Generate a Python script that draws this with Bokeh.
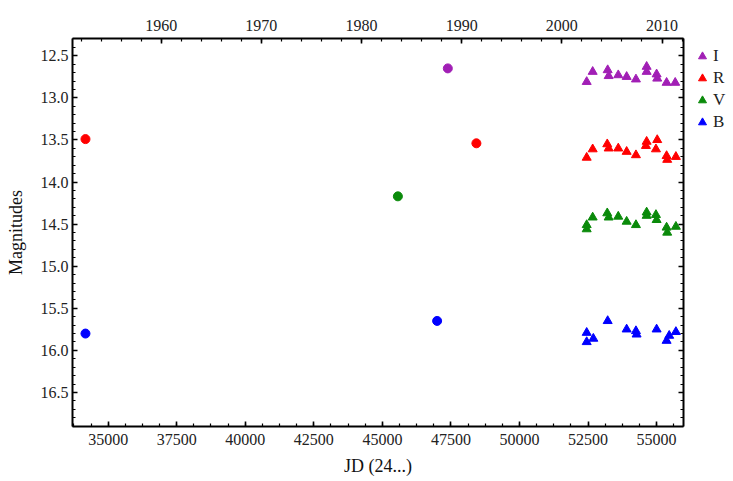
from bokeh.plotting import figure
from bokeh.layouts import row
from bokeh.models import (Range1d, LinearAxis, SingleIntervalTicker, Legend,
                          LegendItem, CustomJSTickFormatter, PrintfTickFormatter)
from bokeh.embed import file_html
from bokeh.resources import INLINE

# ---- data (JD - 2400000, magnitude) ----
# older archival measurements (circles)
B_old_jd = [34173, 46996]
B_old_mag = [15.80, 15.65]
V_old_jd = [45565]
V_old_mag = [14.17]
R_old_jd = [34173, 48428]
R_old_mag = [13.49, 13.54]
I_old_jd = [47386]
I_old_mag = [12.65]

# modern CCD measurements (triangles)
I_jd = [52450, 52668, 53215, 53251, 53601, 53907, 54246, 54636, 54636, 55000, 55022, 55364, 55678]
I_mag = [12.81, 12.69, 12.67, 12.74, 12.73, 12.75, 12.78, 12.63, 12.69, 12.72, 12.77, 12.82, 12.82]

R_jd = [52450, 52668, 53200, 53251, 53601, 53907, 54246, 54610, 54636, 54975, 55022, 55364, 55386, 55703]
R_mag = [13.71, 13.61, 13.55, 13.60, 13.60, 13.64, 13.68, 13.57, 13.52, 13.61, 13.50, 13.69, 13.735, 13.70]

V_jd = [52450, 52450, 52668, 53200, 53251, 53601, 53907, 54246, 54636, 54636, 54975, 55000, 55364, 55386, 55703]
V_mag = [14.56, 14.51, 14.42, 14.37, 14.42, 14.41, 14.47, 14.51, 14.36, 14.40, 14.39, 14.45, 14.54, 14.60, 14.53]

B_jd = [52450, 52450, 52692, 53215, 53907, 54246, 54270, 55000, 55364, 55459, 55703]
B_mag = [15.79, 15.90, 15.86, 15.65, 15.75, 15.77, 15.81, 15.75, 15.885, 15.825, 15.78]

band_names = ["I", "R", "V", "B"]
band_colors = ["#a11fb5", "#ff0000", "#0a8a0a", "#0000ff"]

X_START, X_END = 33700, 55980
Y_BOTTOM, Y_TOP = 16.904, 12.295
JD_J2000 = 51544.5


def jd_to_year(jd):
    return 2000.0 + (jd - JD_J2000) / 365.25


FONT = "Liberation Serif"

p = figure(width=685, height=481, output_backend="svg", toolbar_location=None,
           x_range=Range1d(X_START, X_END), y_range=Range1d(Y_BOTTOM, Y_TOP),
           min_border_left=72, min_border_right=2, min_border_top=38,
           min_border_bottom=55, background_fill_color="white",
           border_fill_color="white", outline_line_color=None, align="start")
p.xgrid.visible = False
p.ygrid.visible = False

p.extra_x_ranges = {"year": Range1d(jd_to_year(X_START), jd_to_year(X_END))}


def style(ax, label_size="16px"):
    ax.axis_line_width = 2
    ax.axis_line_color = "black"
    ax.major_tick_in = 5
    ax.major_tick_out = 0
    ax.minor_tick_in = 3
    ax.minor_tick_out = 0
    ax.major_tick_line_width = 1.6
    ax.minor_tick_line_width = 1.2
    ax.major_tick_line_color = "black"
    ax.minor_tick_line_color = "black"
    ax.major_label_text_font = FONT
    ax.major_label_text_font_size = label_size
    ax.major_label_text_color = "#222222"
    ax.axis_label_text_font = FONT
    ax.axis_label_text_font_size = "18px"
    ax.axis_label_text_font_style = "normal"
    ax.axis_label_text_color = "#111111"


xax = p.xaxis[0]
xax.ticker = SingleIntervalTicker(interval=2500, num_minor_ticks=4)
xax.axis_label = "JD (24...)"
style(xax)
xax.major_label_standoff = 7
xax.axis_label_standoff = 8

yax = p.yaxis[0]
yax.ticker = SingleIntervalTicker(interval=0.5, num_minor_ticks=5)
yax.formatter = PrintfTickFormatter(format="%.1f")
yax.axis_label = "Magnitudes"
style(yax)
yax.major_label_standoff = 4
yax.axis_label_standoff = 12

top = LinearAxis(x_range_name="year",
                 ticker=SingleIntervalTicker(interval=10, num_minor_ticks=5))
style(top)
top.major_label_standoff = 8
p.add_layout(top, "above")

right = LinearAxis(ticker=SingleIntervalTicker(interval=0.5, num_minor_ticks=5),
                   formatter=CustomJSTickFormatter(code="return ''"))
style(right)
right.major_label_standoff = 0
p.add_layout(right, "right")

old_data = {"I": (I_old_jd, I_old_mag), "R": (R_old_jd, R_old_mag),
            "V": (V_old_jd, V_old_mag), "B": (B_old_jd, B_old_mag)}
new_data = {"I": (I_jd, I_mag), "R": (R_jd, R_mag),
            "V": (V_jd, V_mag), "B": (B_jd, B_mag)}

for name, col in zip(band_names, band_colors):
    ox, oy = old_data[name]
    p.scatter(ox, oy, marker="circle", size=9, fill_color=col, line_color=col)
    nx, ny = new_data[name]
    p.scatter(nx, ny, marker="triangle", size=9, fill_color=col, line_color=col)

# ---- legend panel to the right of the frame ----
lp = figure(width=48, height=481, output_backend="svg", toolbar_location=None,
            title=None, x_range=Range1d(0, 1), y_range=Range1d(0, 1),
            x_axis_type=None, y_axis_type=None, min_border=0,
            min_border_top=0, min_border_bottom=0, min_border_left=0,
            min_border_right=0, outline_line_color=None,
            background_fill_color="white", border_fill_color="white",
            align="start")
lp.xgrid.visible = False
lp.ygrid.visible = False

items = []
for name, col in zip(band_names, band_colors):
    nx, ny = new_data[name]
    # same series, outside this panel's view; only its legend swatch is shown
    r = lp.scatter(x=nx[:1], y=ny[:1], marker="triangle", size=9,
                   fill_color=col, line_color=col)
    items.append(LegendItem(label=name, renderers=[r]))

legend = Legend(items=items, location="top_left", glyph_width=20, glyph_height=22,
                label_height=22, label_standoff=1, spacing=0, padding=3, margin=7,
                label_text_font=FONT, label_text_font_size="17px",
                label_text_color="#222222", border_line_color=None,
                background_fill_alpha=0)
lp.add_layout(legend)

layout = row(p, lp, align="start")
open("out.html", "w").write(file_html(layout, INLINE))
